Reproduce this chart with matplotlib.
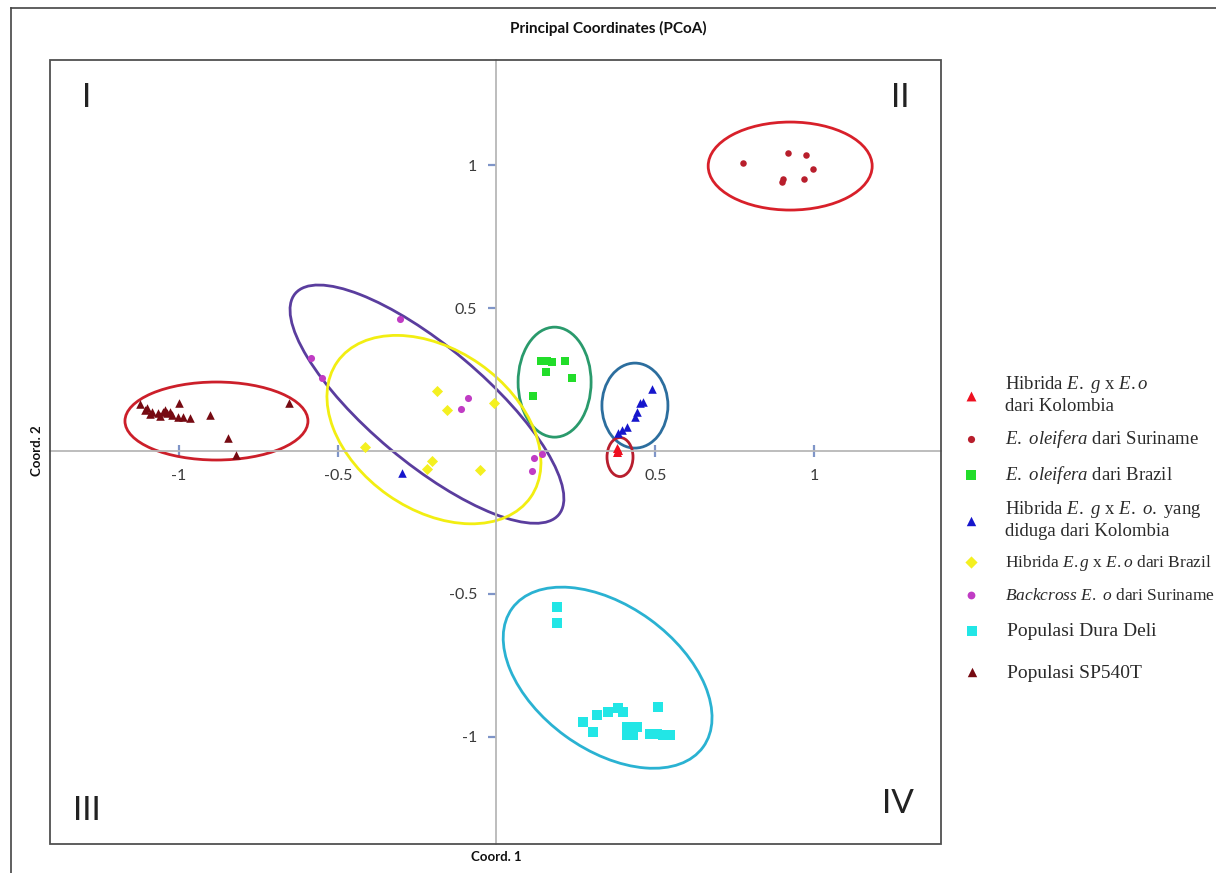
import numpy as np
import matplotlib
matplotlib.use('Agg')
import matplotlib.pyplot as plt
from matplotlib.patches import Ellipse, Rectangle
from matplotlib.transforms import ScaledTranslation, blended_transform_factory
from matplotlib.lines import Line2D

plt.rcParams['mathtext.fontset'] = 'custom'
plt.rcParams['mathtext.rm'] = 'Liberation Serif'
plt.rcParams['mathtext.it'] = 'Liberation Serif:italic'

# ---------------- data ----------------
hib_kol_x = [0.380, 0.383, 0.380]
hib_kol_y = [0.010, 0.003, -0.003]

ole_sur_x = [0.776, 0.918, 0.975, 0.997, 0.903, 0.899, 0.969]
ole_sur_y = [1.009, 1.044, 1.036, 0.987, 0.952, 0.941, 0.952]

ole_bra_x = [0.140, 0.159, 0.175, 0.216, 0.156, 0.238, 0.115]
ole_bra_y = [0.315, 0.315, 0.311, 0.315, 0.276, 0.255, 0.192]

hib_kol2_x = [0.490, 0.462, 0.452, 0.443, 0.436, 0.411, 0.395, 0.383, -0.298]
hib_kol2_y = [0.217, 0.171, 0.168, 0.136, 0.119, 0.084, 0.073, 0.063, -0.077]

hib_bra_x = [-0.187, -0.156, -0.008, -0.414, -0.203, -0.219, -0.052]
hib_bra_y = [0.210, 0.143, 0.168, 0.014, -0.035, -0.063, -0.066]

back_sur_x = [-0.304, -0.584, -0.550, -0.090, -0.112, 0.143, 0.118, 0.112]
back_sur_y = [0.462, 0.325, 0.255, 0.185, 0.147, -0.010, -0.024, -0.070]

dura_x = [0.190, 0.190, 0.273, 0.316, 0.351, 0.383, 0.399, 0.304, 0.509,
          0.411, 0.421, 0.430, 0.443, 0.411, 0.484, 0.506, 0.525, 0.547]
dura_y = [-0.546, -0.601, -0.947, -0.924, -0.912, -0.899, -0.912, -0.982, -0.895,
          -0.965, -0.982, -0.994, -0.965, -0.994, -0.990, -0.990, -0.994, -0.994]

sp_x = [-1.123, -1.101, -1.085, -1.067, -1.051, -1.038, -1.023, -1.003, -0.988, -0.966,
        -1.000, -0.903, -0.846, -0.821, -0.654, -1.107, -1.092, -1.060, -1.045, -1.029]
sp_y = [0.164, 0.150, 0.136, 0.133, 0.136, 0.133, 0.126, 0.119, 0.119, 0.115,
        0.168, 0.126, 0.045, -0.014, 0.168, 0.143, 0.129, 0.122, 0.143, 0.136]

labels = [
    'Hibrida $\\mathit{E.}$ $\\mathit{g}$ x $\\mathit{E.o}$\ndari Kolombia',
    '$\\mathit{E.}$ $\\mathit{oleifera}$ dari Suriname',
    '$\\mathit{E.}$ $\\mathit{oleifera}$ dari Brazil',
    'Hibrida $\\mathit{E.}$ $\\mathit{g}$ x $\\mathit{E.}$ $\\mathit{o.}$ yang\ndiduga dari Kolombia',
    'Hibrida $\\mathit{E.g}$ x $\\mathit{E.o}$ dari Brazil',
    '$\\mathit{Backcross}$ $\\mathit{E.}$ $\\mathit{o}$ dari Suriname',
    'Populasi Dura Deli',
    'Populasi SP540T',
]

xtick_vals = [-1, -0.5, 0.5, 1]
xtick_labels = ['-1', '-0.5', '0.5', '1']
ytick_vals = [-1, -0.5, 0.5, 1]
ytick_labels = ['-1', '-0.5', '0.5', '1']

# ellipse annotations (centre in data units, size in pixels, angle in degrees)
ell_cx = [-0.882, 0.925, 0.183, 0.436, 0.389, -0.219, -0.197, 0.350]
ell_cy = [0.105, 0.997, 0.241, 0.159, -0.021, 0.164, 0.075, -0.793]
ell_w = [183, 164, 73, 66, 26, 344, 236, 236]
ell_h = [78, 88, 110, 85, 39, 116, 160, 144]
ell_ang = [0, 0, 0, 0, 0, -40, -35, -36]
ell_col = ['#cc1f2a', '#d8202a', '#2a9a6c', '#2c6e9e', '#b81e2e', '#5a3d9e', '#f2ee12', '#2ab2d2']

# ---------------- figure ----------------
W, H = 1216, 873
fig = plt.figure(figsize=(W / 100, H / 100), dpi=100)
fig.patch.set_facecolor('white')

ax = fig.add_axes([50.4 / W, 1 - 843.5 / H, 890.6 / W, 783.5 / H])
ax.set_xlim(-1.405, 1.40)
ax.set_ylim(-1.373, 1.368)

for s in ['top', 'right']:
    ax.spines[s].set_visible(False)
for s in ['left', 'bottom']:
    ax.spines[s].set_position(('data', 0))
    ax.spines[s].set_color('#b8b8b8')
    ax.spines[s].set_linewidth(1.3)

ax.add_patch(Rectangle((0, 0), 1, 1, transform=ax.transAxes, fill=False,
                       ec='#505050', lw=1.3, clip_on=False, zorder=5))

ax.set_xticks(xtick_vals)
ax.set_xticklabels(xtick_labels)
ax.set_yticks(ytick_vals)
ax.set_yticklabels(ytick_labels)
ax.tick_params(axis='x', direction='inout', length=8, width=1.6, color='#7f95c8',
               pad=9, labelsize=11.5, labelcolor='#3a3a3a')
ax.tick_params(axis='y', direction='out', length=6, width=1.6, color='#7f95c8',
               pad=8, labelsize=11.5, labelcolor='#3a3a3a')
for t in ax.get_xticklabels() + ax.get_yticklabels():
    t.set_family('Lato')

# ellipses
for cx, cy, w, h, a, c in zip(ell_cx, ell_cy, ell_w, ell_h, ell_ang, ell_col):
    tr = fig.dpi_scale_trans + ScaledTranslation(cx, cy, ax.transData)
    ax.add_patch(Ellipse((0, 0), w / 100, h / 100, angle=a, transform=tr,
                         fill=False, ec=c, lw=2.0, zorder=2))

# points
h1 = ax.scatter(hib_kol_x, hib_kol_y, marker='^', s=42, color='#ee1020', zorder=3, lw=0)
h2 = ax.scatter(ole_sur_x, ole_sur_y, marker='o', s=22, color='#b81e2c', zorder=3, lw=0)
h3 = ax.scatter(ole_bra_x, ole_bra_y, marker='s', s=36, color='#22dd2a', zorder=3, lw=0)
h4 = ax.scatter(hib_kol2_x, hib_kol2_y, marker='^', s=38, color='#1616cc', zorder=3, lw=0)
h5 = ax.scatter(hib_bra_x, hib_bra_y, marker='D', s=32, color='#f4f020', zorder=3, lw=0)
h6 = ax.scatter(back_sur_x, back_sur_y, marker='o', s=26, color='#c03cc4', zorder=3, lw=0)
h7 = ax.scatter(dura_x, dura_y, marker='s', s=42, color='#22e6e6', zorder=3, lw=0)
h8 = ax.scatter(sp_x, sp_y, marker='^', s=38, color='#760a12', zorder=3, lw=0)
handles = [h1, h2, h3, h4, h5, h6, h7, h8]

# quadrant numerals
for txt, xa, ya in [('I', 0.041, 0.952), ('II', 0.954, 0.952),
                    ('III', 0.041, 0.041), ('IV', 0.952, 0.051)]:
    ax.text(xa, ya, txt, transform=ax.transAxes, ha='center', va='center',
            fontsize=24, family='Lato', color='#222222')

# titles
fig.text(0.5, 1 - 28 / H, 'Principal Coordinates (PCoA)', ha='center', va='center',
         fontsize=11, fontweight='bold', family='Lato', color='#111111')
fig.text(0, 1 - 857 / H, 'Coord. 1', ha='center', va='center', fontsize=9.5,
         fontweight='bold', family='Lato', color='#111111',
         transform=blended_transform_factory(ax.transData, fig.transFigure))
fig.text(37 / W, 0, 'Coord. 2', ha='center', va='center', fontsize=9.5, rotation=90,
         fontweight='bold', family='Lato', color='#111111',
         transform=blended_transform_factory(fig.transFigure, ax.transData))

# legend (two blocks to follow the reference row spacing)
leg_kw = dict(loc='upper left', frameon=False, handlelength=1.0, handletextpad=1.3,
              borderpad=0, borderaxespad=0, scatterpoints=1, markerscale=1.1)
leg1 = fig.legend(handles[:6], labels[:6], bbox_to_anchor=(962 / W, 1 - 374 / H),
                  prop={'family': 'Liberation Serif', 'size': 13.5},
                  labelspacing=0.72, **leg_kw)
for i, t in enumerate(leg1.get_texts()):
    t.set_color('#2a2a2a')
    if i in (4, 5):
        t.set_fontsize(12.5)
leg2 = fig.legend(handles[6:], labels[6:], bbox_to_anchor=(962 / W, 1 - 622 / H),
                  prop={'family': 'Liberation Serif', 'size': 14},
                  labelspacing=1.25, **leg_kw)
for t in leg2.get_texts():
    t.set_color('#2a2a2a')

# outer border (left and top)
fig.add_artist(Line2D([11 / W, 11 / W], [0, 1 - 8 / H], transform=fig.transFigure,
                      color='#444444', lw=1.2))
fig.add_artist(Line2D([11 / W, 1], [1 - 8 / H, 1 - 8 / H], transform=fig.transFigure,
                      color='#444444', lw=1.2))

fig.savefig('out.png', dpi=100, facecolor='white')
